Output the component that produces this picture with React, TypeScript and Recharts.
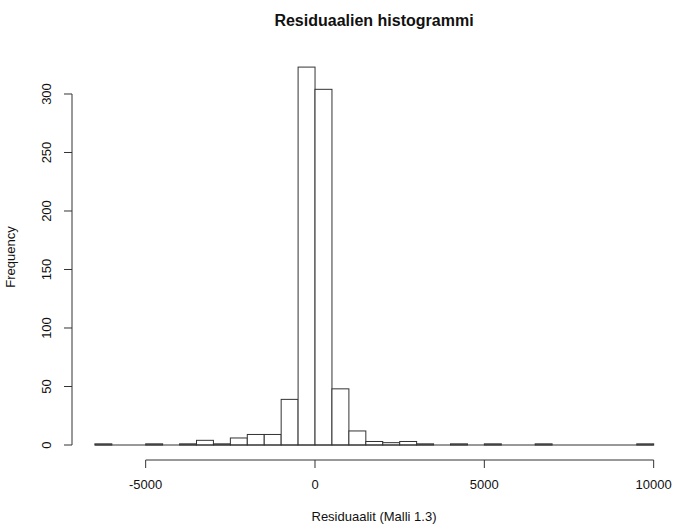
import React from 'react';
import { ComposedChart, Bar, XAxis, YAxis, ReferenceLine } from 'recharts';

// Histogram breaks (bin edges) and counts per bin
const BREAKS = [
  -6500, -6000, -5500, -5000, -4500, -4000, -3500, -3000, -2500, -2000, -1500,
  -1000, -500, 0, 500, 1000, 1500, 2000, 2500, 3000, 3500, 4000, 4500, 5000,
  5500, 6000, 6500, 7000, 7500, 8000, 8500, 9000, 9500, 10000,
];
const COUNTS = [
  1, 0, 0, 1, 0, 1, 4, 1, 6, 9, 9, 39, 323, 304, 48, 12, 3, 2, 3, 1, 0, 1, 0,
  1, 0, 0, 1, 0, 0, 0, 0, 0, 1,
];
const X_TICKS = [-5000, 0, 5000, 10000];
const Y_TICKS = [0, 50, 100, 150, 200, 250, 300];

const TITLE = 'Residuaalien histogrammi';
const X_TITLE = 'Residuaalit (Malli 1.3)';
const Y_TITLE = 'Frequency';

const W = 673;
const H = 530;
const MARGIN = { top: 51, right: 0, bottom: 0, left: 0 };
const Y_AXIS_W = 72;
const X_AXIS_H = 70;

// axis limits (include the 4% extension around the data range)
const X_DOMAIN: [number, number] = [-7175, 10571];
const Y_DOMAIN: [number, number] = [-12.82, 336.75];

const FONT = '"Liberation Sans", Arial, Helvetica, sans-serif';
const INK = '#111';
const LINE = '#333';

const data = COUNTS.map((count, i) => ({
  mid: (BREAKS[i] + BREAKS[i + 1]) / 2,
  count,
}));

const plotW = W - MARGIN.left - MARGIN.right - Y_AXIS_W;
// width of one bin in pixels on the x scale
const binPx = ((BREAKS[1] - BREAKS[0]) * plotW) / (X_DOMAIN[1] - X_DOMAIN[0]);

// Histogram cell: spans the whole bin so neighbouring cells share edges
const BinRect = (props: any) => {
  const { x, y, width, height } = props;
  if (!height || height <= 0) return null;
  const cx = x + width / 2;
  return (
    <rect
      x={cx - binPx / 2}
      y={y}
      width={binPx}
      height={height}
      fill="#fff"
      stroke={LINE}
      strokeWidth={1}
    />
  );
};

const XTick = (props: any) => {
  const { x, y, payload } = props;
  return (
    <text x={x} y={y} textAnchor="middle" fontSize={13} fontFamily={FONT} fill={INK}>
      {payload.value}
    </text>
  );
};

const YTick = (props: any) => {
  const { x, y, payload } = props;
  return (
    <text
      x={x}
      y={y}
      textAnchor="middle"
      transform={`rotate(-90, ${x}, ${y})`}
      fontSize={13}
      fontFamily={FONT}
      fill={INK}
    >
      {payload.value}
    </text>
  );
};

export default function App() {
  const plotCx = MARGIN.left + Y_AXIS_W + 302;
  return (
    <div style={{ position: 'absolute', left: 0, top: 0, width: W, height: H, background: '#fff' }}>
      <ComposedChart
        width={W}
        height={H}
        data={data}
        margin={MARGIN}
        barCategoryGap={0}
        barGap={0}
      >
        <XAxis
          dataKey="mid"
          type="number"
          domain={X_DOMAIN}
          allowDataOverflow
          ticks={X_TICKS}
          interval={0}
          height={X_AXIS_H}
          axisLine={false}
          tickLine={{ stroke: LINE, strokeWidth: 1 }}
          tickSize={8}
          tickMargin={21}
          tick={<XTick />}
        />
        <YAxis
          type="number"
          domain={Y_DOMAIN}
          allowDataOverflow
          ticks={Y_TICKS}
          interval={0}
          width={Y_AXIS_W}
          axisLine={false}
          tickLine={{ stroke: LINE, strokeWidth: 1 }}
          tickSize={8}
          tickMargin={13}
          tick={<YTick />}
        />
        <Bar
          dataKey="count"
          fill="#fff"
          stroke={LINE}
          strokeWidth={1}
          shape={<BinRect />}
          isAnimationActive={false}
        />
        {/* zero-count bins still show their bottom edge */}
        <ReferenceLine
          segment={[
            { x: BREAKS[0], y: 0 },
            { x: BREAKS[BREAKS.length - 1], y: 0 },
          ]}
          stroke={LINE}
          strokeWidth={1}
          ifOverflow="visible"
        />
        {/* x axis line spans first to last tick */}
        <ReferenceLine
          segment={[
            { x: X_TICKS[0], y: Y_DOMAIN[0] },
            { x: X_TICKS[X_TICKS.length - 1], y: Y_DOMAIN[0] },
          ]}
          stroke={LINE}
          strokeWidth={1}
          ifOverflow="visible"
        />
        {/* y axis line spans first to last tick */}
        <ReferenceLine
          segment={[
            { x: X_DOMAIN[0], y: Y_TICKS[0] },
            { x: X_DOMAIN[0], y: Y_TICKS[Y_TICKS.length - 1] },
          ]}
          stroke={LINE}
          strokeWidth={1}
          ifOverflow="visible"
        />
      </ComposedChart>
      <svg
        width={W}
        height={H}
        style={{ position: 'absolute', left: 0, top: 0, pointerEvents: 'none' }}
      >
        <text x={plotCx} y={26} textAnchor="middle" fontSize={16} fontWeight="bold" fontFamily={FONT} fill={INK}>
          {TITLE}
        </text>
        <text x={plotCx} y={521} textAnchor="middle" fontSize={13} fontFamily={FONT} fill={INK}>
          {X_TITLE}
        </text>
        <text
          x={15}
          y={257}
          textAnchor="middle"
          transform="rotate(-90, 15, 257)"
          fontSize={13}
          fontFamily={FONT}
          fill={INK}
        >
          {Y_TITLE}
        </text>
      </svg>
    </div>
  );
}
